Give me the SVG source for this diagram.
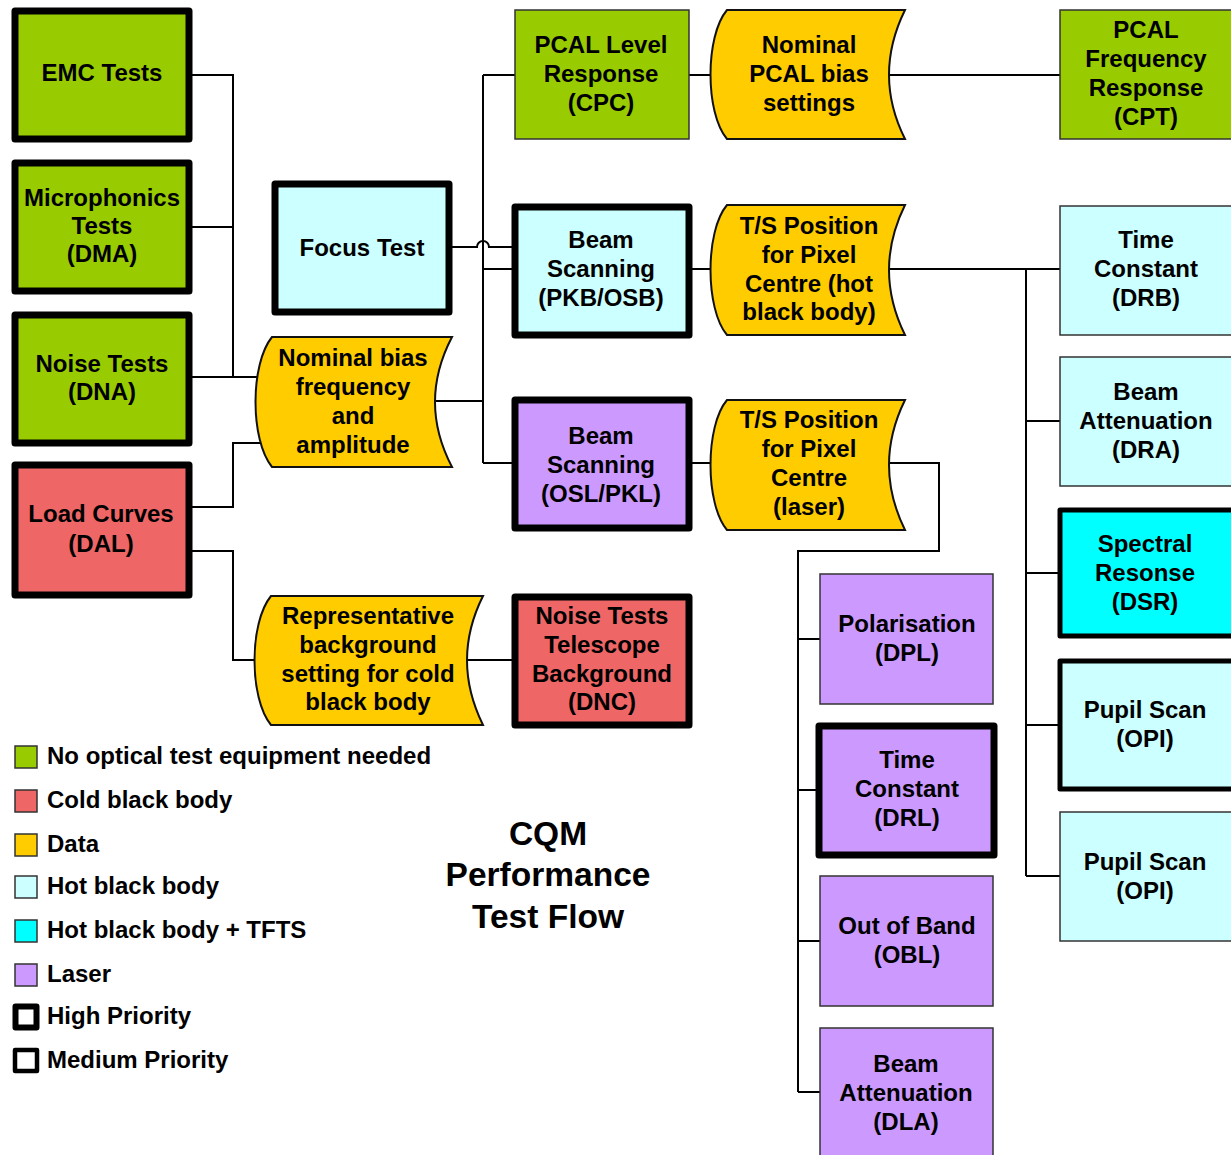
<svg xmlns="http://www.w3.org/2000/svg" width="1231" height="1155" viewBox="0 0 1231 1155">
<style>
text{font-family:"Liberation Sans",Arial,sans-serif;font-weight:bold;font-size:24px;fill:#000;text-anchor:middle}
.lg{text-anchor:start}
.title{font-size:33.5px}
.hi{stroke:#000;stroke-width:7;stroke-linejoin:round}
.med{stroke:#000;stroke-width:5;stroke-linejoin:round}
.thin{stroke:#333;stroke-width:1.5}
.green{fill:#99CC00}
.red{fill:#EE6666}
.data{fill:#FFCC00;stroke:#111;stroke-width:2}
.lcyan{fill:#CCFFFF}
.cyan{fill:#00FFFF}
.purple{fill:#CC99FF}
.conn{fill:none;stroke:#000;stroke-width:2}
</style>
<rect width="1231" height="1155" fill="#fff"/>

<g id="connectors" class="conn">
  <path d="M190 75H233V377M190 227H233M190 377H258"/>
  <path d="M190 507H233V443H262"/>
  <path d="M190 551H233V660H256"/>
  <path d="M436 401H483M483 75V463M483 75H515M483 269H515M483 463H515"/>
  <path d="M451 247H477A6 6 0 0 1 489 247H513"/>
  <path d="M689 75H712M890 75H1060"/>
  <path d="M690 269H712M890 269H1060M1026 269V876M1026 421H1060M1026 573H1060M1026 725H1060M1026 876H1060"/>
  <path d="M690 463H712M890 463H939V551H798V1092M798 639H820M798 790H819M798 941H820M798 1092H820"/>
  <path d="M468 660H513"/>
</g>

<g id="emc"><rect class="green hi" x="15" y="11" width="174" height="128"/><text x="102" y="81">EMC Tests</text></g>
<g id="dma"><rect class="green hi" x="15" y="163" width="174" height="128"/><text x="102" y="206">Microphonics</text><text x="102" y="234">Tests</text><text x="102" y="262">(DMA)</text></g>
<g id="dna"><rect class="green hi" x="15" y="315" width="174" height="128"/><text x="102" y="372">Noise Tests</text><text x="102" y="400">(DNA)</text></g>
<g id="dal"><rect class="red hi" x="15" y="465" width="174" height="130"/><text x="101" y="522">Load Curves</text><text x="101" y="552">(DAL)</text></g>
<g id="focus"><rect class="lcyan hi" x="275" y="184" width="174" height="128"/><text x="362" y="256">Focus Test</text></g>
<g id="nombias"><path class="data" d="M272 337H452Q418 402 452 467H272C250 440 250 364 272 337Z"/><text x="353" y="366">Nominal bias</text><text x="353" y="395">frequency</text><text x="353" y="424">and</text><text x="353" y="453">amplitude</text></g>
<g id="repbg"><path class="data" d="M271 596H483Q451 660 483 725H271C249 698 249 623 271 596Z"/><text x="368" y="624">Representative</text><text x="368" y="653">background</text><text x="368" y="682">setting for cold</text><text x="368" y="710">black body</text></g>
<g id="dnc"><rect class="red hi" x="515" y="597" width="174" height="128"/><text x="602" y="624">Noise Tests</text><text x="602" y="653">Telescope</text><text x="602" y="682">Background</text><text x="602" y="710">(DNC)</text></g>
<g id="cpc"><rect class="green thin" x="515" y="10" width="174" height="129"/><text x="601" y="53">PCAL Level</text><text x="601" y="82">Response</text><text x="601" y="111">(CPC)</text></g>
<g id="pkb"><rect class="lcyan hi" x="515" y="207" width="174" height="128"/><text x="601" y="248">Beam</text><text x="601" y="277">Scanning</text><text x="601" y="306">(PKB/OSB)</text></g>
<g id="osl"><rect class="purple hi" x="515" y="400" width="174" height="128"/><text x="601" y="444">Beam</text><text x="601" y="473">Scanning</text><text x="601" y="502">(OSL/PKL)</text></g>
<g id="pcalbias"><path class="data" d="M727 10H905Q873 75 905 139H727C705 113 705 36 727 10Z"/><text x="809" y="53">Nominal</text><text x="809" y="82">PCAL bias</text><text x="809" y="111">settings</text></g>
<g id="tshot"><path class="data" d="M727 205H905Q873 270 905 335H727C705 309 705 231 727 205Z"/><text x="809" y="234">T/S Position</text><text x="809" y="263">for Pixel</text><text x="809" y="292">Centre (hot</text><text x="809" y="320">black body)</text></g>
<g id="tslaser"><path class="data" d="M727 400H905Q873 465 905 530H727C705 504 705 426 727 400Z"/><text x="809" y="428">T/S Position</text><text x="809" y="457">for Pixel</text><text x="809" y="486">Centre</text><text x="809" y="515">(laser)</text></g>
<g id="cpt"><rect class="green thin" x="1060" y="10" width="174" height="129"/><text x="1146" y="38">PCAL</text><text x="1146" y="67">Frequency</text><text x="1146" y="96">Response</text><text x="1146" y="125">(CPT)</text></g>
<g id="drb"><rect class="lcyan thin" x="1060" y="206" width="174" height="129"/><text x="1146" y="248">Time</text><text x="1146" y="277">Constant</text><text x="1146" y="306">(DRB)</text></g>
<g id="dra"><rect class="lcyan thin" x="1060" y="357" width="174" height="129"/><text x="1146" y="400">Beam</text><text x="1146" y="429">Attenuation</text><text x="1146" y="458">(DRA)</text></g>
<g id="dsr"><rect class="cyan med" x="1060" y="510" width="174" height="126"/><text x="1145" y="552">Spectral</text><text x="1145" y="581">Resonse</text><text x="1145" y="610">(DSR)</text></g>
<g id="opi1"><rect class="lcyan med" x="1060" y="661" width="174" height="128"/><text x="1145" y="718">Pupil Scan</text><text x="1145" y="747">(OPI)</text></g>
<g id="opi2"><rect class="lcyan thin" x="1060" y="812" width="174" height="129"/><text x="1145" y="870">Pupil Scan</text><text x="1145" y="899">(OPI)</text></g>
<g id="dpl"><rect class="purple thin" x="820" y="574" width="173" height="130"/><text x="907" y="632">Polarisation</text><text x="907" y="661">(DPL)</text></g>
<g id="drl"><rect class="purple hi" x="819" y="726" width="175" height="129"/><text x="907" y="768">Time</text><text x="907" y="797">Constant</text><text x="907" y="826">(DRL)</text></g>
<g id="obl"><rect class="purple thin" x="820" y="876" width="173" height="130"/><text x="907" y="934">Out of Band</text><text x="907" y="963">(OBL)</text></g>
<g id="dla"><rect class="purple thin" x="820" y="1028" width="173" height="140"/><text x="906" y="1072">Beam</text><text x="906" y="1101">Attenuation</text><text x="906" y="1130">(DLA)</text></g>

<g id="legend">
  <rect class="green thin" x="15" y="746" width="22" height="22"/><text class="lg" x="47" y="764">No optical test equipment needed</text>
  <rect class="red thin" x="15" y="790" width="22" height="22"/><text class="lg" x="47" y="808">Cold black body</text>
  <rect class="thin" fill="#FFCC00" x="15" y="834" width="22" height="22"/><text class="lg" x="47" y="852">Data</text>
  <rect class="lcyan thin" x="15" y="876" width="22" height="22"/><text class="lg" x="47" y="894">Hot black body</text>
  <rect class="cyan thin" x="15" y="920" width="22" height="22"/><text class="lg" x="47" y="938">Hot black body + TFTS</text>
  <rect class="purple thin" x="15" y="964" width="22" height="22"/><text class="lg" x="47" y="982">Laser</text>
  <rect fill="#fff" stroke="#000" stroke-width="6" stroke-linejoin="round" x="15.5" y="1006.5" width="21" height="21"/><text class="lg" x="47" y="1024">High Priority</text>
  <rect fill="#fff" stroke="#000" stroke-width="4.5" stroke-linejoin="round" x="15" y="1050" width="22" height="21"/><text class="lg" x="47" y="1068">Medium Priority</text>
</g>

<g id="title">
  <text class="title" x="548" y="845">CQM</text>
  <text class="title" x="548" y="886">Performance</text>
  <text class="title" x="548" y="928">Test Flow</text>
</g>
</svg>
